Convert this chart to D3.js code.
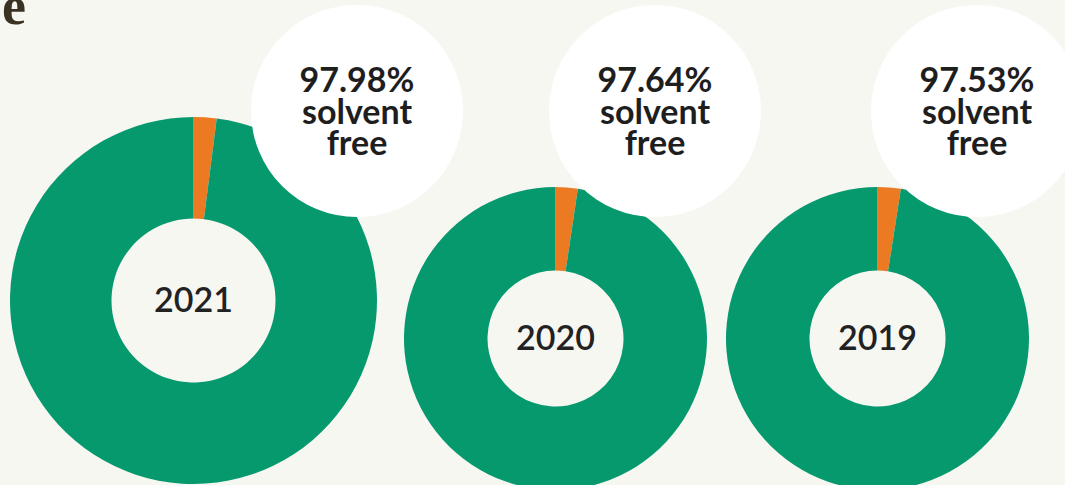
<!DOCTYPE html>
<html><head><meta charset="utf-8">
<script src="https://cdn.jsdelivr.net/npm/d3@7"></script>
<style>html,body{margin:0;padding:0;background:#f7f7f2;}svg{display:block;}</style>
</head><body>
<svg id="c" width="1065" height="485"></svg>
<script>
const years = ["2021", "2020", "2019"];
const solventFree = [97.98, 97.64, 97.53];
const labelSuffix = ["solvent", "free"];

const W = 1065, H = 485;
const svg = d3.select("#c");
svg.append("rect").attr("width", W).attr("height", H).attr("fill", "#f7f7f2");

svg.append("text").attr("x", 2).attr("y", 24)
  .attr("font-family", "Liberation Serif, serif").attr("font-weight", "bold")
  .attr("font-size", 54).attr("fill", "#3a3222").text("e");

const cx = d3.scaleOrdinal().domain(years).range([193.5, 555.5, 877.5]);
const cy = d3.scaleOrdinal().domain(years).range([300.5, 338.5, 338.5]);
const rOuter = d3.scaleOrdinal().domain(years).range([183.5, 151.5, 151.5]);
const rInner = d3.scaleOrdinal().domain(years).range([82, 68, 68]);
const lx = d3.scaleOrdinal().domain(years).range([357, 655, 977]);
const ly = 111, lr = 106;

const color = d3.scaleOrdinal().domain(["other", "free"]).range(["#ec7a22", "#06996e"]);
const pie = d3.pie().sort(null).value(d => d.v);

years.forEach((y, i) => {
  const data = [{k: "other", v: 100 - solventFree[i]}, {k: "free", v: solventFree[i]}];
  const arc = d3.arc().innerRadius(rInner(y)).outerRadius(rOuter(y));
  const g = svg.append("g").attr("transform", `translate(${cx(y)},${cy(y)})`);
  g.selectAll("path").data(pie(data)).join("path")
    .attr("d", arc).attr("fill", d => color(d.data.k));
  g.append("text").attr("text-anchor", "middle").attr("dy", "0.33em")
    .attr("font-family", "Lato, sans-serif").attr("font-weight", 600)
    .attr("font-size", 34).attr("fill", "#222").text(y);
});

years.forEach((y, i) => {
  const g = svg.append("g").attr("transform", `translate(${lx(y)},${ly})`);
  g.append("circle").attr("r", lr).attr("fill", "#ffffff");
  const lines = [solventFree[i].toFixed(2) + "%", ...labelSuffix];
  g.selectAll("text").data(lines).join("text")
    .attr("text-anchor", "middle")
    .attr("y", (d, j) => -19 + j * 31.5)
    .attr("font-family", "Lato, sans-serif").attr("font-weight", "bold")
    .attr("font-size", 34).attr("fill", "#1e1e1e").text(d => d);
});
</script>
</body></html>
